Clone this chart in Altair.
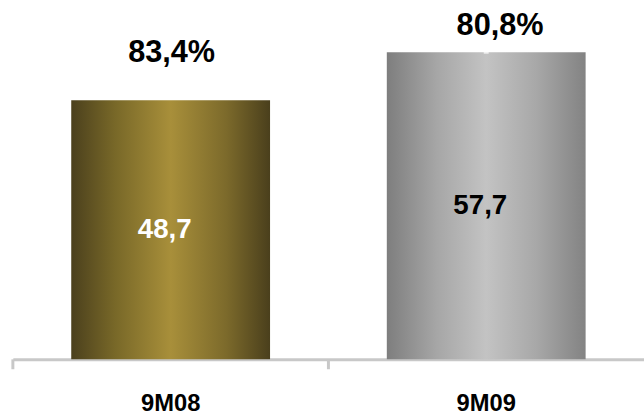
import altair as alt
import pandas as pd

# Bar values per period, with their printed labels
periods = ["9M08", "9M09"]
values = [48.7, 57.7]
value_labels = ["48,7", "57,7"]
pct_labels = ["83,4%", "80,8%"]

# Placement of the percentage labels above the bars (y in data units, x shift in px)
pct_label_y = [55.8, 61.0]
pct_label_dx = [1, 14]
value_label_colors = ["white", "black"]

W, H = 638, 361
FONT = "Liberation Sans"

df = pd.DataFrame({
    "period": periods,
    "value": values,
    "value_label": value_labels,
    "pct_label": pct_labels,
    "pct_y": pct_label_y,
    "label_color": value_label_colors,
})

gold = alt.Gradient(
    gradient="linear", x1=0, x2=1, y1=0, y2=0,
    stops=[
        alt.GradientStop(color="#4b401d", offset=0),
        alt.GradientStop(color="#786828", offset=0.22),
        alt.GradientStop(color="#a88f3a", offset=0.5),
        alt.GradientStop(color="#7c6a2b", offset=0.78),
        alt.GradientStop(color="#4a3f1c", offset=1),
    ],
)
silver = alt.Gradient(
    gradient="linear", x1=0, x2=1, y1=0, y2=0,
    stops=[
        alt.GradientStop(color="#7e7e7e", offset=0),
        alt.GradientStop(color="#a6a6a6", offset=0.25),
        alt.GradientStop(color="#c3c3c3", offset=0.5),
        alt.GradientStop(color="#a8a8a8", offset=0.75),
        alt.GradientStop(color="#838383", offset=1),
    ],
)

x_enc = alt.X(
    "period:N",
    sort=periods,
    scale=alt.Scale(paddingInner=0, paddingOuter=0),
    axis=alt.Axis(
        title=None, ticks=False, labelAngle=0,
        domainColor="#c8c8c8", domainWidth=3,
        labelFont=FONT, labelFontSize=24, labelFontWeight="bold",
        labelColor="black", labelPadding=33,
    ),
)
y_scale = alt.Scale(domain=[0, 67.1], nice=False, zero=True)
y_enc = alt.Y("value:Q", scale=y_scale, axis=None)
x_plain = alt.X("period:N", sort=periods)

base = alt.Chart(df)

bar_gold = base.transform_filter(alt.datum.period == periods[0]).mark_bar(
    width={"band": 0.63}, color=gold
).encode(x=x_enc, y=y_enc)

bar_silver = base.transform_filter(alt.datum.period == periods[1]).mark_bar(
    width={"band": 0.63}, color=silver
).encode(x=x_enc, y=y_enc)

# small white marker sitting on top of the second bar
top_marker = base.transform_filter(alt.datum.period == periods[1]).mark_tick(
    color="white", size=5, thickness=3
).encode(x=x_plain, y=y_enc)

ticks = base.mark_rule(color="#c8c8c8", strokeWidth=3).encode(
    x=alt.X("period:N", sort=periods, bandPosition=0),
    y=alt.value(H),
    y2=alt.value(H + 10),
)

inner_labels = base.transform_calculate(mid="datum.value / 2").mark_text(
    font=FONT, fontSize=28, fontWeight="bold", baseline="middle", dx=-6
).encode(
    x=x_plain,
    y=alt.Y("mid:Q", scale=y_scale),
    text="value_label:N",
    color=alt.Color("label_color:N", scale=None),
)

# One text layer per period for the percentage labels, each with its own shift
pct_layers = [
    base.transform_filter(alt.datum.period == p).mark_text(
        font=FONT, fontSize=31, fontWeight="bold", baseline="alphabetic",
        color="black", dx=dx
    ).encode(
        x=x_plain,
        y=alt.Y("pct_y:Q", scale=y_scale),
        text="pct_label:N",
    )
    for p, dx in zip(periods, pct_label_dx)
]

chart = alt.layer(
    bar_gold, bar_silver, top_marker, ticks, inner_labels, *pct_layers
).properties(
    width=W, height=H,
    autosize=alt.AutoSizeParams(type="none"),
    padding={"left": 13, "top": 0, "right": 0, "bottom": 55},
).configure_view(stroke=None)

chart.save("out.html", embed_options={"renderer": "svg", "actions": False})
